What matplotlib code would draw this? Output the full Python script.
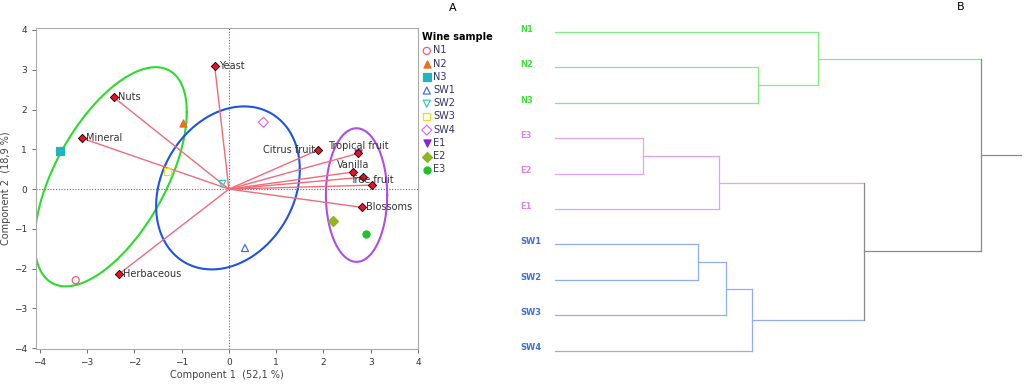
import numpy as np
import matplotlib.pyplot as plt

# ---- PCA biplot data (panel A) ----
var_names = ['Yeast', 'Nuts', 'Mineral', 'Herbaceous', 'Citrus fruit',
             'Tropical fruit', 'Vanilla', '', 'Tree fruit', 'Blossoms']
var_x = [-0.30, -2.44, -3.11, -2.33, 1.88, 2.74, 2.63, 2.84, 3.03, 2.82]
var_y = [3.09, 2.31, 1.28, -2.14, 0.98, 0.90, 0.43, 0.30, 0.10, -0.46]
# label placement: (dx, dy in points, ha)
var_lab = [(3, 0, 'left'), (3, 0, 'left'), (3, 0, 'left'), (3, 0, 'left'),
           (-2, 0, 'right'), (0, 5, 'center'), (0, 5, 'center'), (0, 0, 'left'),
           (0, 4, 'center'), (3, 0, 'left')]

samples = ['N1', 'N2', 'N3', 'SW1', 'SW2', 'SW3', 'SW4', 'E1', 'E2', 'E3']
samp_x = [-3.24, -0.97, -3.57, 0.34, -0.14, -1.30, 0.73, 2.74, 2.21, 2.90]
samp_y = [-2.29, 1.66, 0.96, -1.48, 0.13, 0.44, 1.68, 0.90, -0.80, -1.14]
samp_marker = ['o', '^', 's', '^', 'v', 's', 'D', 'v', 'D', 'o']
samp_color = ['#e8607a', '#e8701e', '#1fb5c0', '#4a6ee0', '#3cc8b0',
              '#e6e020', '#e070e8', '#8a1ee6', '#94b41e', '#22c02a']
samp_filled = [False, True, True, False, False, False, False, True, True, True]

# group ellipses: centre and covariance (data units)
ell_center = [(-2.50, 0.31), (-0.02, 0.03), (2.70, -0.15)]
ell_cov = [[[2.59, 2.62], [2.62, 7.59]],
           [[2.31, 0.70], [0.70, 4.20]],
           [[0.42, 0.0], [0.0, 2.82]]]
ell_color = ['#2bdc2b', '#1f52e6', '#b04de8']

# ---- dendrogram data (panel B) ----
leaves = ['N1', 'N2', 'N3', 'E3', 'E2', 'E1', 'SW1', 'SW2', 'SW3', 'SW4']
leaf_group = ['N', 'N', 'N', 'E', 'E', 'E', 'SW', 'SW', 'SW', 'SW']
# merges like a linkage matrix: (child a, child b, height)
merges = [(1, 2, 2.03), (0, 10, 2.63), (3, 4, 0.88), (12, 5, 1.64),
          (6, 7, 1.43), (14, 8, 1.71), (15, 9, 1.97), (13, 16, 3.09),
          (11, 17, 4.26)]
root_end = 4.66
line_col = {'N': '#80ec80', 'E': '#e2a4f2', 'SW': '#92aeee', None: '#8a8a8a'}
text_col = {'N': '#3ee03e', 'E': '#d488ec', 'SW': '#3f6fe0'}

fig = plt.figure(figsize=(10.24, 3.84), dpi=100)

# ---------------- panel A ----------------
ax = fig.add_axes([36 / 1024, 35 / 384, 382 / 1024, 321 / 384])
ax.set_xlim(-4.08, 4.0)
ax.set_ylim(-4.02, 4.05)
ax.axhline(0, color='#e8304a', lw=0.8, ls=(0, (1, 1.5)))
ax.axvline(0, color='#e8304a', lw=0.8, ls=(0, (1, 1.5)))

t = np.linspace(0, 2 * np.pi, 300)
for c, cov, col in zip(ell_center, ell_cov, ell_color):
    L = np.linalg.cholesky(np.array(cov))
    pts = L @ np.vstack([np.cos(t), np.sin(t)])
    ax.plot(pts[0] + c[0], pts[1] + c[1], color=col, lw=1.5)

for x, y in zip(var_x, var_y):
    ax.plot([0, x], [0, y], color='#f26b7a', lw=1.0, zorder=2)

handles = []
for i, name in enumerate(samples):
    fc = samp_color[i] if samp_filled[i] else 'none'
    h = ax.scatter(samp_x[i], samp_y[i], marker=samp_marker[i], s=26,
                   facecolors=fc, edgecolors=samp_color[i], linewidths=0.9,
                   zorder=3, label=name)
    handles.append(h)

ax.scatter(var_x, var_y, marker='D', s=18, color='#e8102a',
           edgecolors='black', linewidths=0.6, zorder=4)
for name, x, y, (dx, dy, ha) in zip(var_names, var_x, var_y, var_lab):
    if name:
        ax.annotate(name, (x, y), xytext=(dx, dy), textcoords='offset points',
                    ha=ha, va='center', fontsize=7, color='#333333', zorder=5)

ax.set_xticks(range(-4, 5))
ax.set_yticks(range(-4, 5))
ax.tick_params(labelsize=6.5, colors='#555555', length=3, width=0.6,
               labelcolor='#333333')
for s in ax.spines.values():
    s.set_color('#aaaaaa')
    s.set_linewidth(0.8)
ax.set_xlabel('Component 1  (52,1 %)', fontsize=7, color='#444444', labelpad=2)
ax.set_ylabel('Component 2  (18,9 %)', fontsize=7, color='#444444', labelpad=2)

leg = ax.legend(handles=handles, loc='upper left', bbox_to_anchor=(0.995, 1.005),
                frameon=False, title='Wine sample', fontsize=7,
                title_fontproperties={'weight': 'bold', 'size': 7},
                handletextpad=0.15, labelspacing=0.33, borderaxespad=0.2,
                handlelength=1.0, alignment='left')
for txt in leg.get_texts():
    txt.set_color('#333366')

fig.text(453 / 1024, 1 - 8 / 384, 'A', fontsize=8, ha='center', va='center')

# ---------------- panel B ----------------
bx = fig.add_axes([515 / 1024, 0, 509 / 1024, 1])
bx.set_xlim(-0.40, 4.69)
bx.set_ylim(9.94, -0.904)
bx.axis('off')

n = len(leaves)
ypos = {i: float(i) for i in range(n)}
xpos = {i: 0.0 for i in range(n)}
grp = {i: leaf_group[i] for i in range(n)}
for k, (a, b, h) in enumerate(merges):
    cid = n + k
    ga, gb = grp[a], grp[b]
    g = ga if ga == gb else None
    bx.plot([xpos[a], h], [ypos[a], ypos[a]], color=line_col[ga], lw=0.9)
    bx.plot([xpos[b], h], [ypos[b], ypos[b]], color=line_col[gb], lw=0.9)
    bx.plot([h, h], [ypos[a], ypos[b]], color=line_col[g], lw=0.9)
    ypos[cid] = (ypos[a] + ypos[b]) / 2
    xpos[cid] = h
    grp[cid] = g
root = n + len(merges) - 1
bx.plot([xpos[root], root_end], [ypos[root], ypos[root]], color=line_col[None], lw=0.9)

for i, name in enumerate(leaves):
    bx.text(-0.35, i - 0.08, name, fontsize=6, fontweight='bold',
            color=text_col[leaf_group[i]], ha='left', va='center')

fig.text(961 / 1024, 1 - 7 / 384, 'B', fontsize=8, ha='center', va='center')

fig.savefig('out.png', dpi=100)
